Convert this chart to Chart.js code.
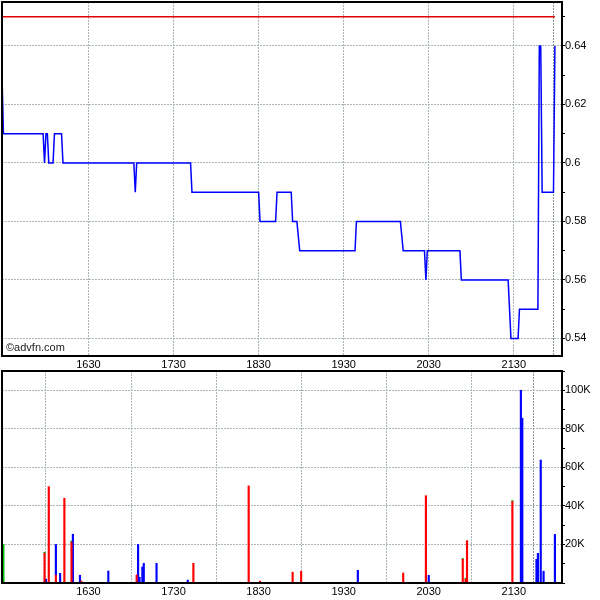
<!DOCTYPE html>
<html>
<head>
<meta charset="utf-8">
<script src="https://cdn.jsdelivr.net/npm/chart.js@4/dist/chart.umd.min.js"></script>
<style>
  body{margin:0;background:#fff;}
  #wrap{position:relative;width:600px;height:600px;}
  canvas{position:absolute;left:0;}
  #price{top:0;}
  #vol{top:370px;}
</style>
</head>
<body>
<div id="wrap">
  <canvas id="price" width="600" height="370"></canvas>
  <canvas id="vol" width="600" height="230"></canvas>
</div>
<script>
// price trades (time of day, price)
const priceTimes  = ['15:29','15:30','15:58','15:59','16:00','16:01','16:02','16:05','16:06','16:11','16:12',
  '17:02','17:03','17:04','17:42','17:43','18:30','18:31','18:42','18:43','18:53','18:54','18:57','18:59',
  '19:38','19:39','20:10','20:12','20:27','20:28','20:29','20:52','20:53','21:26','21:28','21:33','21:34',
  '21:47','21:48','21:49','21:50','21:58','21:59'];
const priceValues = [0.63,0.61,0.61,0.60,0.61,0.61,0.60,0.60,0.61,0.61,0.60,
  0.60,0.59,0.60,0.60,0.59,0.59,0.58,0.58,0.59,0.59,0.58,0.58,0.57,
  0.57,0.58,0.58,0.57,0.57,0.56,0.57,0.57,0.56,0.56,0.54,0.54,0.55,
  0.55,0.64,0.64,0.59,0.59,0.64];
const prevClose = 0.65;

// volume per minute, split by trade type
const volTimes = ['15:30','15:59','16:00','16:02','16:07','16:10','16:13','16:18','16:19','16:24','16:25',
  '16:44','17:04','17:05','17:06','17:08','17:09','17:18','17:40','17:44','18:23','18:31','18:54','19:00',
  '19:40','20:12','20:28','20:30','20:54','20:56','20:57','21:29','21:35','21:36','21:46','21:47','21:49',
  '21:51','21:59'];
const sellVol  = [0,15500,0,50000,4000,0,44000,21200,0,0,1000,
  0,4200,0,0,0,0,0,0,10200,50400,1000,5600,6100,
  0,5200,45300,0,12400,2000,22000,42300,0,0,0,0,0,
  0,0];
const buyVol   = [0,0,2000,0,16000,5000,0,0,25300,4000,0,
  6200,0,20000,3000,8300,10200,10200,1500,0,0,0,0,0,
  6600,0,0,4000,0,0,0,0,100000,85500,12300,15400,63800,
  6100,25200];
const otherVol = [20000,500,0,0,0,0,0,600,0,0,0,
  0,0,0,0,0,0,0,0,0,0,0,0,0,
  0,0,0,0,300,500,0,500,0,0,0,0,0,
  0,0];

const sessionStart = '15:29';
const sessionEnd   = '22:04';
const xTickTimes   = ['16:30','17:30','18:30','19:30','20:30','21:30'];
const nowTime      = '21:58';
const priceTicks   = [0.54,0.55,0.56,0.57,0.58,0.59,0.60,0.61,0.62,0.63,0.64,0.65];
const volTicks     = [0,10000,20000,30000,40000,50000,60000,70000,80000,90000,100000,110000];

function toMin(t){ const p=t.split(':'); return (+p[0])*60+(+p[1]); }
function hhmm(v){ return Math.floor(v/60)+String(v%60).padStart(2,'0'); }

const FONT = {family:'"Liberation Sans", Arial, sans-serif', size:11};
const GRID = '#aab6b6';

// black frame round the plot area + copyright text
const framePlugin = {
  id:'frame',
  afterDraw(chart, args, opts){
    const {ctx, chartArea:a} = chart;
    ctx.save();
    ctx.strokeStyle='#000';
    ctx.lineWidth=2;
    ctx.strokeRect(a.left, a.top, a.right-a.left, a.bottom-a.top);
    if(opts.text){
      ctx.fillStyle='#222';
      ctx.font='11px "Liberation Sans", Arial, sans-serif';
      ctx.textBaseline='bottom';
      ctx.fillText(opts.text, a.left+4, a.bottom-3);
    }
    ctx.restore();
  }
};

function xScale(height){
  return {
    type:'linear',
    min:toMin(sessionStart), max:toMin(sessionEnd),
    afterBuildTicks(s){ s.ticks = xTickTimes.concat([nowTime]).map(t=>({value:toMin(t)})); },
    afterFit(s){ s.height = height; s.paddingLeft = 0; s.paddingRight = 0; },
    ticks:{ font:FONT, color:'#000', padding:2, maxRotation:0, autoSkip:false,
      callback:(v)=> v===toMin(nowTime) ? '' : hhmm(v) },
    grid:{ color:(c)=> c.tick && c.tick.value===toMin(nowTime) ? '#8a9494' : GRID, lineWidth:1, drawTicks:false },
    border:{ display:true, color:'#000', width:2, dash:[2,1] }
  };
}

function yScale(ticks, isMajor, label, min, max){
  return {
    type:'linear', position:'right', min:min, max:max,
    afterBuildTicks(s){ s.ticks = ticks.map(v=>({value:v})); },
    afterFit(s){ s.width = 38; s.paddingTop = 0; s.paddingBottom = 0; },
    ticks:{ font:FONT, color:'#000', padding:0, autoSkip:false,
      callback:(v)=> isMajor(v) ? label(v) : '' },
    grid:{ color:(c)=> c.tick && isMajor(c.tick.value) ? GRID : 'rgba(0,0,0,0)',
      tickColor:'#000', tickLength:3, lineWidth:1 },
    border:{ display:true, color:'#000', width:2, dash:[2,1] }
  };
}

new Chart(document.getElementById('price'), {
  type:'line',
  data:{
    datasets:[
      { data: priceTimes.map((t,i)=>({x:toMin(t), y:priceValues[i]})),
        borderColor:'#0000ff', borderWidth:1.5, pointRadius:0, tension:0 },
      { data: [{x:toMin(sessionStart), y:prevClose},{x:toMin(nowTime)+1, y:prevClose}],
        borderColor:'#e00000', borderWidth:1.5, pointRadius:0 }
    ]
  },
  options:{
    responsive:false, animation:false, devicePixelRatio:1,
    layout:{ padding:{left:2, top:2, right:0, bottom:0} },
    plugins:{ legend:{display:false}, tooltip:{enabled:false}, frame:{ text:'\u00A9advfn.com' } },
    scales:{
      x: xScale(14),
      y: yScale(priceTicks, v=>Math.round(v*100)%2===0,
        v=>String(Number(v.toFixed(2))), 0.534, 0.655)
    }
  },
  plugins:[framePlugin]
});

function volData(arr){
  return volTimes.map((t,i)=>({x:toMin(t), y:arr[i]})).filter(p=>p.y>0);
}

new Chart(document.getElementById('vol'), {
  type:'bar',
  data:{
    datasets:[
      { data: volData(sellVol),  backgroundColor:'#ff0000', barThickness:1.5, stack:'v' },
      { data: volData(buyVol),   backgroundColor:'#0000ff', barThickness:1.5, stack:'v' },
      { data: volData(otherVol), backgroundColor:'#00c000', barThickness:1.5, stack:'v' }
    ]
  },
  options:{
    responsive:false, animation:false, devicePixelRatio:1,
    layout:{ padding:{left:2, top:1, right:0, bottom:0} },
    plugins:{ legend:{display:false}, tooltip:{enabled:false}, frame:{} },
    scales:{
      x: Object.assign(xScale(17), { stacked:true, offset:false }),
      y: Object.assign(yScale(volTicks, v=>v>0 && v%20000===0, v=>(v/1000)+'K', 0, 110000), { stacked:true })
    }
  },
  plugins:[framePlugin]
});
</script>
</body>
</html>
